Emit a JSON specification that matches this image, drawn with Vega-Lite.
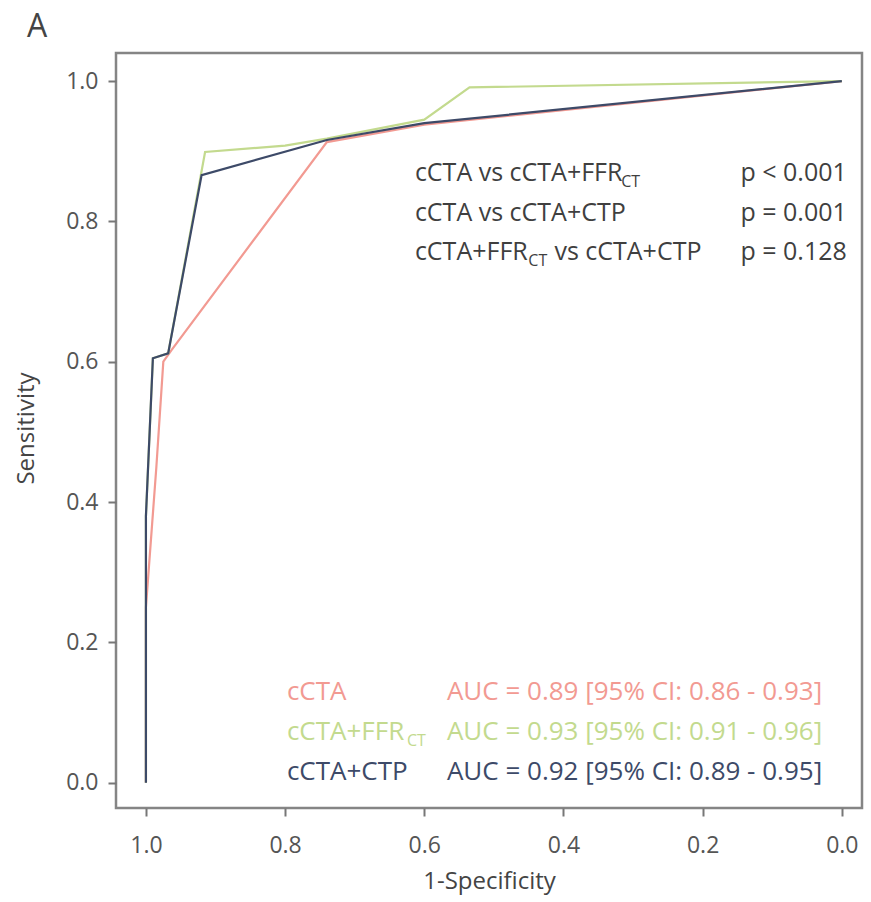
{
  "$schema": "https://vega.github.io/schema/vega-lite/v6.json",
  "width": 746,
  "height": 755,
  "autosize": {"type": "none"},
  "padding": {"left": 116, "top": 53, "right": 9, "bottom": 94},
  "background": "white",
  "title": {"text": "A", "anchor": "start", "frame": "group", "dx": -89, "offset": 9, "fontSize": 32, "font": "Open Sans", "fontWeight": "normal", "color": "#444444"},
  "config": {
    "font": "Open Sans",
    "view": {"stroke": "#858585", "strokeWidth": 2.5},
    "axis": {"grid": false, "domain": false, "tickColor": "#777777", "tickWidth": 2, "tickSize": 8, "labelFont": "Open Sans", "labelFontSize": 23, "labelColor": "#555555", "titleFont": "Open Sans", "titleFontSize": 24, "titleFontWeight": "normal", "titleColor": "#444444"}
  },
  "datasets": {
    "roc": [
      {"model": "cCTA", "fpr": 1.0, "sens": 0.0},
      {"model": "cCTA", "fpr": 1.0, "sens": 0.25},
      {"model": "cCTA", "fpr": 0.985, "sens": 0.45},
      {"model": "cCTA", "fpr": 0.975, "sens": 0.6},
      {"model": "cCTA", "fpr": 0.963, "sens": 0.617},
      {"model": "cCTA", "fpr": 0.74, "sens": 0.913},
      {"model": "cCTA", "fpr": 0.6, "sens": 0.938},
      {"model": "cCTA", "fpr": 0.0, "sens": 1.0},
      {"model": "cCTA+FFRCT", "fpr": 1.0, "sens": 0.0},
      {"model": "cCTA+FFRCT", "fpr": 1.0, "sens": 0.38},
      {"model": "cCTA+FFRCT", "fpr": 0.99, "sens": 0.605},
      {"model": "cCTA+FFRCT", "fpr": 0.968, "sens": 0.612},
      {"model": "cCTA+FFRCT", "fpr": 0.915, "sens": 0.899},
      {"model": "cCTA+FFRCT", "fpr": 0.8, "sens": 0.908},
      {"model": "cCTA+FFRCT", "fpr": 0.74, "sens": 0.918},
      {"model": "cCTA+FFRCT", "fpr": 0.6, "sens": 0.945},
      {"model": "cCTA+FFRCT", "fpr": 0.535, "sens": 0.991},
      {"model": "cCTA+FFRCT", "fpr": 0.0, "sens": 1.0},
      {"model": "cCTA+CTP", "fpr": 1.0, "sens": 0.0},
      {"model": "cCTA+CTP", "fpr": 1.0, "sens": 0.38},
      {"model": "cCTA+CTP", "fpr": 0.99, "sens": 0.605},
      {"model": "cCTA+CTP", "fpr": 0.968, "sens": 0.612},
      {"model": "cCTA+CTP", "fpr": 0.92, "sens": 0.866},
      {"model": "cCTA+CTP", "fpr": 0.74, "sens": 0.916},
      {"model": "cCTA+CTP", "fpr": 0.6, "sens": 0.94},
      {"model": "cCTA+CTP", "fpr": 0.0, "sens": 1.0}
    ],
    "notes": [
      {"fpr": 0.6135, "sens": 0.869, "text": "cCTA vs cCTA+FFR"},
      {"fpr": 0.6135, "sens": 0.812, "text": "cCTA vs cCTA+CTP"},
      {"fpr": 0.6135, "sens": 0.756, "text": "cCTA+FFR"},
      {"fpr": 0.413, "sens": 0.756, "text": "vs cCTA+CTP"}
    ],
    "noteSubs": [
      {"fpr": 0.317, "sens": 0.869, "text": "CT"},
      {"fpr": 0.4505, "sens": 0.756, "text": "CT"}
    ],
    "pvals": [
      {"fpr": -0.0072, "sens": 0.869, "text": "p < 0.001"},
      {"fpr": -0.0072, "sens": 0.812, "text": "p = 0.001"},
      {"fpr": -0.0072, "sens": 0.756, "text": "p = 0.128"}
    ],
    "legend": [
      {"model": "cCTA", "fpr": 0.7974, "sens": 0.1296, "text": "cCTA"},
      {"model": "cCTA", "fpr": 0.5675, "sens": 0.1296, "text": "AUC = 0.89 [95% CI: 0.86 - 0.93]"},
      {"model": "cCTA+FFRCT", "fpr": 0.7974, "sens": 0.0726, "text": "cCTA+FFR"},
      {"model": "cCTA+FFRCT", "fpr": 0.5675, "sens": 0.0726, "text": "AUC = 0.93 [95% CI: 0.91 - 0.96]"},
      {"model": "cCTA+CTP", "fpr": 0.7974, "sens": 0.0157, "text": "cCTA+CTP"},
      {"model": "cCTA+CTP", "fpr": 0.5675, "sens": 0.0157, "text": "AUC = 0.92 [95% CI: 0.89 - 0.95]"}
    ],
    "legendSubs": [
      {"model": "cCTA+FFRCT", "fpr": 0.625, "sens": 0.0726, "text": "CT"}
    ]
  },
  "layer": [
    {
      "data": {"name": "roc"},
      "mark": {"type": "line", "strokeWidth": 2.2, "interpolate": "linear"},
      "encoding": {
        "x": {"field": "fpr", "type": "quantitative", "scale": {"domain": [-0.029, 1.043], "reverse": true, "nice": false, "zero": false}, "axis": {"values": [0, 0.2, 0.4, 0.6, 0.8, 1.0], "format": ".1f", "labelPadding": 18, "titlePadding": 12}, "title": "1-Specificity"},
        "y": {"field": "sens", "type": "quantitative", "scale": {"domain": [-0.036, 1.04], "nice": false, "zero": false}, "axis": {"values": [0, 0.2, 0.4, 0.6, 0.8, 1.0], "format": ".1f", "labelPadding": 10, "titleX": -78, "titleY": 375}, "title": "Sensitivity"},
        "color": {"field": "model", "type": "nominal", "scale": {"domain": ["cCTA", "cCTA+FFRCT", "cCTA+CTP"], "range": ["#f29a92", "#c3da8e", "#3d4a68"]}, "legend": null},
        "order": {"field": "fpr", "sort": "descending"},
        "detail": {"field": "model"}
      }
    },
    {
      "data": {"name": "notes"},
      "mark": {"type": "text", "align": "left", "baseline": "middle", "fontSize": 25, "color": "#3f3f3f"},
      "encoding": {"x": {"field": "fpr", "type": "quantitative"}, "y": {"field": "sens", "type": "quantitative"}, "text": {"field": "text"}}
    },
    {
      "data": {"name": "noteSubs"},
      "mark": {"type": "text", "align": "left", "baseline": "middle", "fontSize": 16, "dy": 9, "color": "#3f3f3f"},
      "encoding": {"x": {"field": "fpr", "type": "quantitative"}, "y": {"field": "sens", "type": "quantitative"}, "text": {"field": "text"}}
    },
    {
      "data": {"name": "pvals"},
      "mark": {"type": "text", "align": "right", "baseline": "middle", "fontSize": 25, "color": "#3f3f3f"},
      "encoding": {"x": {"field": "fpr", "type": "quantitative"}, "y": {"field": "sens", "type": "quantitative"}, "text": {"field": "text"}}
    },
    {
      "data": {"name": "legend"},
      "mark": {"type": "text", "align": "left", "baseline": "middle", "fontSize": 26},
      "encoding": {"x": {"field": "fpr", "type": "quantitative"}, "y": {"field": "sens", "type": "quantitative"}, "text": {"field": "text"}, "color": {"field": "model", "type": "nominal", "legend": null}}
    },
    {
      "data": {"name": "legendSubs"},
      "mark": {"type": "text", "align": "left", "baseline": "middle", "fontSize": 16, "dy": 9},
      "encoding": {"x": {"field": "fpr", "type": "quantitative"}, "y": {"field": "sens", "type": "quantitative"}, "text": {"field": "text"}, "color": {"field": "model", "type": "nominal", "legend": null}}
    }
  ]
}
